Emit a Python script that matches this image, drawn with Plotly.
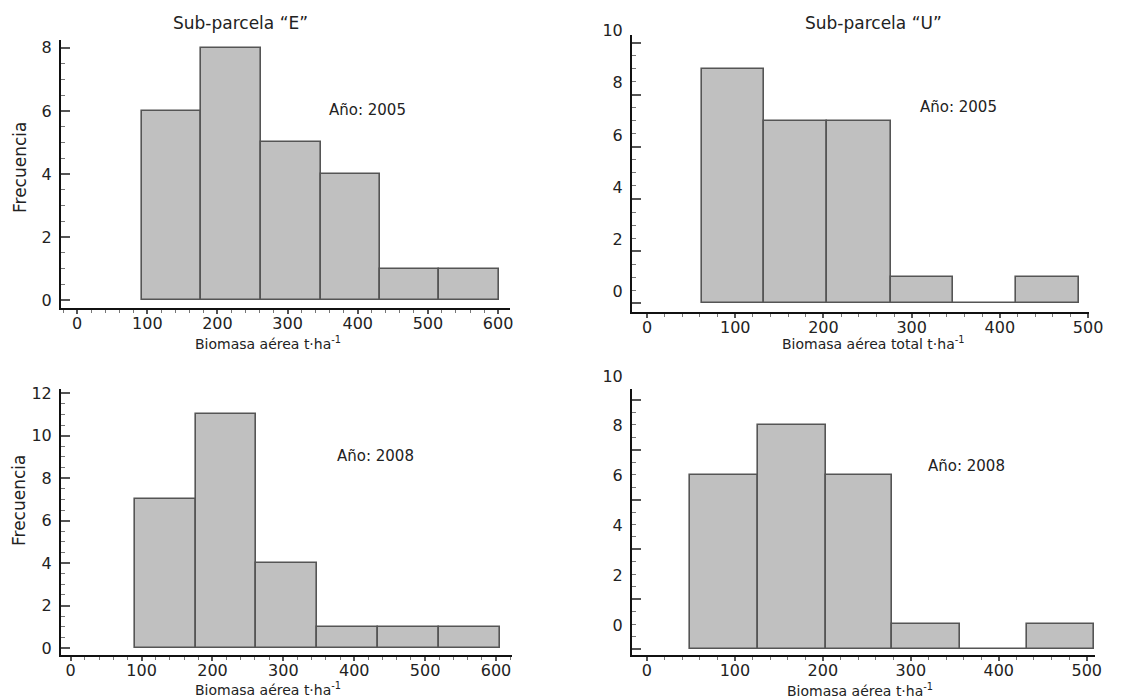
import plotly.graph_objects as go

# ---- data ----
edges_E2005 = [92, 177, 262, 347, 432, 516, 601]
counts_E2005 = [6, 8, 5, 4, 1, 1]

edges_U2005 = [62, 133, 204, 276, 347, 418, 490]
counts_U2005 = [9, 7, 7, 1, 0, 1]

edges_E2008 = [91, 177, 262, 347, 433, 519, 605]
counts_E2008 = [7, 11, 4, 1, 1, 1]

edges_U2008 = [49, 126, 203, 279, 356, 432, 508]
counts_U2008 = [7, 9, 7, 1, 0, 1]

x_ticks_E = [0, 100, 200, 300, 400, 500, 600]
x_ticks_U = [0, 100, 200, 300, 400, 500]

title_E = "Sub-parcela “E”"
title_U = "Sub-parcela “U”"
xlab_E = "Biomasa aérea t·ha<sup>-1</sup>"
xlab_U_top = "Biomasa aérea total t·ha<sup>-1</sup>"
ylab = "Frecuencia"
year_2005 = "Año: 2005"
year_2008 = "Año: 2008"

# page has a default 8px body margin: size the figure to fit the window
OFF = 8
W, H = 1123 - OFF, 700 - OFF
FONT = "DejaVu Sans"
TXT = "#222222"

def px(x):
    return (x - OFF) / W

def py(y):
    return 1 - (y - OFF) / H

def bars(edges, counts, xa, ya):
    centers = [(a + b) / 2 for a, b in zip(edges[:-1], edges[1:])]
    widths = [b - a for a, b in zip(edges[:-1], edges[1:])]
    return go.Bar(x=centers, y=counts, width=widths, xaxis=xa, yaxis=ya,
                  marker=dict(color="#c0c0c0", line=dict(color="#555555", width=1.6)),
                  showlegend=False, hoverinfo="skip")

fig = go.Figure()
fig.add_trace(bars(edges_E2005, counts_E2005, "x", "y"))
fig.add_trace(bars(edges_U2005, counts_U2005, "x2", "y2"))
fig.add_trace(bars(edges_E2008, counts_E2008, "x3", "y3"))
fig.add_trace(bars(edges_U2008, counts_U2008, "x4", "y4"))

def xax(dom, rng, ticks, anchor):
    return dict(domain=dom, range=rng, anchor=anchor, tickvals=ticks, automargin=False,
                showline=True, linecolor="#111111", linewidth=2,
                ticks="outside", ticklen=4, tickwidth=1.5, tickcolor="#555555",
                minor=dict(dtick=20, ticks="outside", ticklen=3, tickwidth=1.2, tickcolor="#777777"),
                showgrid=False, zeroline=False, ticklabelstandoff=-4,
                tickfont=dict(family=FONT, size=16, color=TXT))

def yax(dom, rng, ticks, anchor, shift):
    return dict(domain=dom, range=rng, anchor=anchor, tickvals=ticks, automargin=False,
                showline=True, linecolor="#111111", linewidth=2,
                ticks="inside", ticklen=9, tickwidth=1.5, tickcolor="#555555",
                minor=dict(dtick=0.5, ticks="inside", ticklen=4, tickwidth=1.2, tickcolor="#777777"),
                showgrid=False, zeroline=False, ticklabelshift=shift, ticklabelstandoff=4,
                tickfont=dict(family=FONT, size=16, color=TXT))

fig.update_layout(
    width=W, height=H,
    margin=dict(l=0, r=0, t=0, b=0),
    paper_bgcolor="white", plot_bgcolor="white",
    bargap=0,
    xaxis=xax([px(61), px(510)], [-23, 617], x_ticks_E, "y"),
    yaxis=yax([py(308), py(40)], [-0.25, 8.25], [0, 2, 4, 6, 8], "x", 0),
    xaxis2=xax([px(632), px(1089)], [-17, 501], x_ticks_U, "y2"),
    yaxis2=yax([py(311.7), py(35)], [-0.33, 10.3], [0, 2, 4, 6, 8, 10], "x2", -12),
    xaxis3=xax([px(61), px(512)], [-13.7, 622.6], x_ticks_E, "y3"),
    yaxis3=yax([py(655), py(389)], [-0.33, 12.2], [0, 2, 4, 6, 8, 10, 12], "x3", 0),
    xaxis4=xax([px(632), px(1095)], [-17, 509.4], x_ticks_U, "y4"),
    yaxis4=yax([py(655), py(389)], [-0.24, 10.44], [0, 2, 4, 6, 8, 10], "x4", -24),
)

def ann(text, x, y, size, angle=0):
    fig.add_annotation(text=text, x=px(x), y=py(y), xref="paper", yref="paper",
                       xanchor="center", yanchor="middle", showarrow=False,
                       textangle=angle, font=dict(family=FONT, size=size, color=TXT))

ann(title_E, 240, 23, 17)
ann(title_U, 873, 23, 17)
ann(year_2005, 367, 110, 15)
ann(year_2005, 958, 107, 15)
ann(year_2008, 375, 456, 15)
ann(year_2008, 966, 466, 15)
ann(xlab_E, 268, 343, 14)
ann(xlab_U_top, 873, 343, 14)
ann(xlab_E, 268, 689, 14)
ann(xlab_E, 860, 690, 14)
ann(ylab, 20, 168, 17, -90)
ann(ylab, 19, 501, 17, -90)

fig.write_html("out.html")
